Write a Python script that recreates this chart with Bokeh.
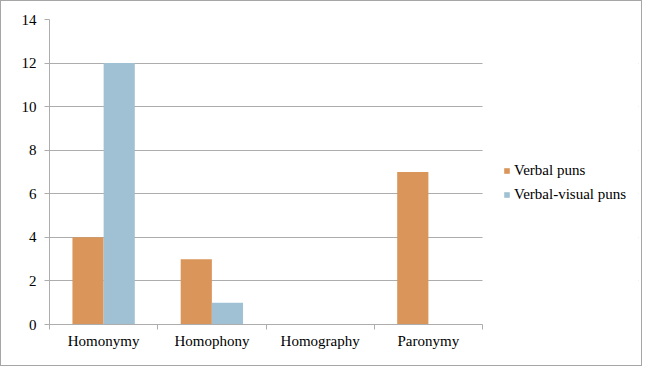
from bokeh.plotting import figure
from bokeh.models import (Legend, LegendItem, FixedTicker, Range1d, ColumnDataSource,
                          BoxAnnotation)
from bokeh.transform import dodge
from bokeh.embed import file_html
from bokeh.resources import INLINE

categories = ["Homonymy", "Homophony", "Homography", "Paronymy"]
verbal_puns = [4, 3, 0, 7]
verbal_visual_puns = [12, 1, 0, 0]
y_ticks = [0, 2, 4, 6, 8, 10, 12, 14]

ORANGE = "#D9955A"
BLUE = "#A0C1D4"
GRID = "#ADADAD"
FONT = "Liberation Serif"
FS = "15px"

W, H = 642, 366
LEFT, TOP, BOTTOM, RIGHT = 48, 18, 43, 5
PLOT_W = 433  # pixel width of the category area

n = len(categories)
frame_w = W - LEFT - RIGHT
x_end = n * frame_w / PLOT_W

centers = [i + 0.5 for i in range(n)]
bounds = [float(i) for i in range(n + 1)]
source = ColumnDataSource(dict(x=centers, verbal=verbal_puns, visual=verbal_visual_puns))

p = figure(width=W, height=H,
           x_range=Range1d(0, x_end), y_range=Range1d(0, 14),
           output_backend="svg", toolbar_location=None,
           min_border_left=LEFT, min_border_right=RIGHT,
           min_border_top=TOP, min_border_bottom=BOTTOM,
           styles={"border": "1px solid #A6A6A6"})

bw = 0.288
r1 = p.vbar(x=dodge("x", -bw / 2), top="verbal", width=bw, source=source,
            fill_color=ORANGE, line_color=None)
r2 = p.vbar(x=dodge("x", bw / 2), top="visual", width=bw, source=source,
            fill_color=BLUE, line_color=None)

p.outline_line_color = None
p.xgrid.visible = False
p.ygrid.ticker = FixedTicker(ticks=y_ticks)
p.ygrid.grid_line_color = GRID

# keep the grid lines within the category area
p.add_layout(BoxAnnotation(left=n, fill_color="white", fill_alpha=1.0,
                           line_color=None, level="underlay"))

xa = p.xaxis[0]
xa.bounds = (0, n)
xa.ticker = FixedTicker(ticks=centers, minor_ticks=bounds)
xa.major_label_overrides = {c: name for c, name in zip(centers, categories)}
xa.major_tick_out = 0
xa.major_tick_in = 0
xa.minor_tick_out = 5
xa.minor_tick_in = 0
xa.minor_tick_line_color = GRID
xa.axis_line_color = GRID
xa.major_label_standoff = 3
xa.major_label_text_font = FONT
xa.major_label_text_font_size = FS
xa.major_label_text_color = "black"

ya = p.yaxis[0]
ya.ticker = FixedTicker(ticks=y_ticks)
ya.major_tick_out = 5
ya.major_tick_in = 0
ya.minor_tick_line_color = None
ya.major_tick_line_color = GRID
ya.axis_line_color = GRID
ya.major_label_standoff = 8
ya.major_label_text_font = FONT
ya.major_label_text_font_size = FS
ya.major_label_text_color = "black"

legend = Legend(items=[LegendItem(label="Verbal puns", renderers=[r1]),
                       LegendItem(label="Verbal-visual puns", renderers=[r2])],
                location=(PLOT_W + 21, 120), orientation="vertical",
                glyph_width=7, glyph_height=7, label_standoff=4,
                spacing=4, padding=0, margin=0, label_height=20,
                border_line_color=None, background_fill_alpha=0,
                label_text_font=FONT, label_text_font_size=FS,
                label_text_color="black")
p.add_layout(legend)

open("out.html", "w").write(file_html(p, INLINE))
